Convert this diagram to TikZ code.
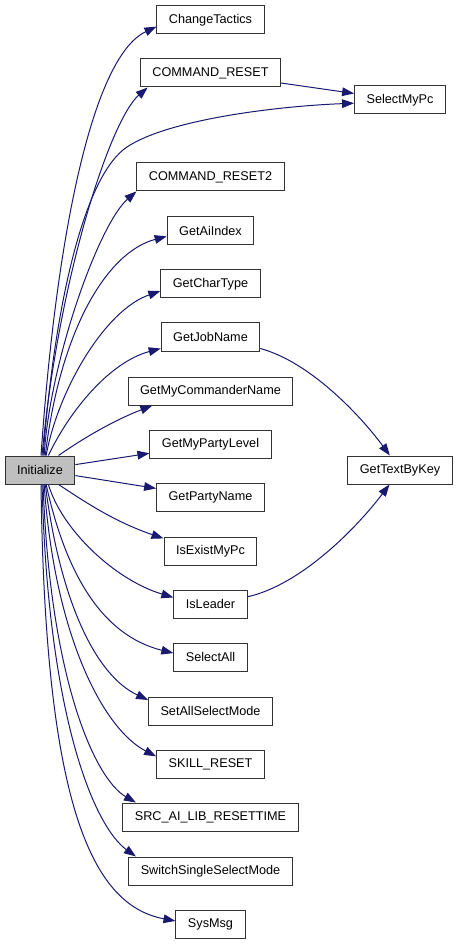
\documentclass[tikz,border=0pt]{standalone}
\usepackage{fontspec}
\setmainfont{Liberation Sans}
\usetikzlibrary{arrows.meta}
\definecolor{callblue}{HTML}{191970}

\begin{document}
\begin{tikzpicture}[x=0.75pt, y=-0.75pt,
    fn/.style={draw=black!80, line width=0.75pt, minimum height=21pt, inner xsep=9pt, inner ysep=0pt, font=\fontsize{9.5}{11}\selectfont},
    call/.style={draw=callblue, line width=0.75pt, -{Triangle[length=9pt, width=6.5pt]}}]
    \useasboundingbox (0,0) rectangle (459,944);

    \node[fn, fill=black!25] (init) at (40, 470) {Initialize};
    \node[fn] (chg) at (210.5, 20) {ChangeTactics};
    \node[fn] (cmdr) at (210.5, 73) {COMMAND\_RESET};
    \node[fn] (selpc) at (400, 100) {SelectMyPc};
    \node[fn] (cmdr2) at (210.5, 177) {COMMAND\_RESET2};
    \node[fn] (aiidx) at (210.5, 231) {GetAiIndex};
    \node[fn] (chartype) at (210.5, 284) {GetCharType};
    \node[fn] (job) at (210.5, 337) {GetJobName};
    \node[fn] (cmdname) at (210.5, 391) {GetMyCommanderName};
    \node[fn] (plevel) at (210.5, 444) {GetMyPartyLevel};
    \node[fn] (text) at (400, 470) {GetTextByKey};
    \node[fn] (pname) at (210.5, 497) {GetPartyName};
    \node[fn] (exist) at (210.5, 551) {IsExistMyPc};
    \node[fn] (leader) at (210.5, 604) {IsLeader};
    \node[fn] (selall) at (210.5, 657) {SelectAll};
    \node[fn] (setall) at (210.5, 711) {SetAllSelectMode};
    \node[fn] (skill) at (210.5, 764) {SKILL\_RESET};
    \node[fn] (src) at (210.5, 817) {SRC\_AI\_LIB\_RESETTIME};
    \node[fn] (single) at (210.5, 871) {SwitchSingleSelectMode};
    \node[fn] (sys) at (210.5, 924) {SysMsg};

    % Initialize から上へ
    \draw[call] (init.86) .. controls (55, 250) and (90, 58) .. (chg.187);
    \draw[call] (init.82) .. controls (58, 280) and (110, 120) .. (cmdr.193);
    \draw[call] (init.78) .. controls (55, 300) and (85, 175) .. (127, 147)
        .. controls (169, 119) and (280, 106) .. (selpc.184);
    \draw[call] (init.74) .. controls (50, 360) and (99, 224) .. (cmdr2.191);
    \draw[call] (init.70) .. controls (60, 330) and (107, 252) .. (aiidx.187);
    \draw[call] (init.67) .. controls (58, 390) and (105, 310) .. (chartype.188);
    \draw[call] (init.60) .. controls (70, 410) and (110, 362) .. (job.193);
    \draw[call] (init.38) .. controls (85, 437) and (115, 420) .. (cmdname.194);
    \draw[call] (init) -- (plevel);

    % Initialize から下へ
    \draw[call] (init) -- (pname);
    \draw[call] (init.-38) .. controls (85, 502) and (115, 522) .. (exist.165);
    \draw[call] (init.-60) .. controls (62, 530) and (115, 580) .. (leader.170);
    \draw[call] (init.-67) .. controls (65, 570) and (100, 635) .. (selall.174);
    \draw[call] (init.-70) .. controls (60, 600) and (95, 675) .. (setall.170);
    \draw[call] (init.-74) .. controls (55, 640) and (105, 730) .. (skill.172);
    \draw[call] (init.-78) .. controls (50, 680) and (95, 779) .. (src.169);
    \draw[call] (init.-82) .. controls (48, 720) and (95, 827) .. (single.169);
    \draw[call] (init.-86) .. controls (45, 800) and (90, 905) .. (sys.175);

    % 右の列へ
    \draw[call] (cmdr) -- (selpc);
    \draw[call] (job.-13) .. controls (310, 362) and (360, 415) .. (text.125);
    \draw[call] (leader.11) .. controls (300, 585) and (355, 530) .. (text.234);
\end{tikzpicture}
\end{document}
